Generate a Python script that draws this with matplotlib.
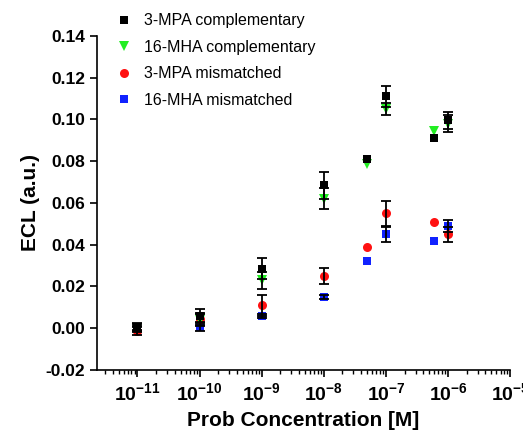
import matplotlib
matplotlib.use("Agg")
import matplotlib.pyplot as plt
import numpy as np
from matplotlib.ticker import FuncFormatter, LogLocator, MultipleLocator

plt.rcParams["font.family"] = ["Liberation Sans", "DejaVu Sans"]
plt.rcParams["mathtext.fontset"] = "custom"
plt.rcParams["mathtext.rm"] = "Liberation Sans:bold"
plt.rcParams["mathtext.bf"] = "Liberation Sans:bold"

CONCENTRATION = [1e-11, 1e-10, 1e-9, 1e-8, 5e-8, 1e-7, 6e-7, 1e-6]

MPA_COMP = [0.0005, 0.006, 0.0285, 0.0685, 0.081, 0.111, 0.091, 0.0995]
MPA_COMP_ERR = [0.002, 0.003, 0.005, 0.0065, 0, 0.005, 0, 0.004]

MHA_COMP = [0.0, 0.004, 0.023, 0.062, 0.0785, 0.105, 0.0945, 0.098]
MHA_COMP_ERR = [0.002, 0.003, 0.004, 0.005, 0, 0.003, 0, 0.004]

MPA_MIS = [-0.0012, 0.0045, 0.011, 0.025, 0.039, 0.055, 0.051, 0.045]
MPA_MIS_ERR = [0.002, 0.003, 0.005, 0.004, 0, 0.006, 0, 0.0035]

MHA_MIS = [0.0, 0.0005, 0.006, 0.015, 0.032, 0.045, 0.042, 0.049]
MHA_MIS_ERR = [0.001, 0.002, 0.001, 0.001, 0, 0.0035, 0, 0.003]

SERIES = [
    ("3-MPA complementary", MPA_COMP, MPA_COMP_ERR, "s", "black", 6),
    ("16-MHA complementary", MHA_COMP, MHA_COMP_ERR, "v", "#22ee22", 7.5),
    ("3-MPA mismatched", MPA_MIS, MPA_MIS_ERR, "o", "#ff1111", 6.5),
    ("16-MHA mismatched", MHA_MIS, MHA_MIS_ERR, "s", "#1122ff", 6),
]
# bleu dessous, noir au-dessus
ORDRE_DESSIN = [3, 2, 1, 0]


def tracer():
    fig = plt.figure(figsize=(5.23, 4.33), dpi=100)
    ax = fig.add_axes([0.1855, 0.1455, 0.79, 0.7715])
    x = np.array(CONCENTRATION)
    poignees = {}
    for rang, i in enumerate(ORDRE_DESSIN):
        nom, y, err, marq, coul, taille = SERIES[i]
        y = np.array(y)
        err = np.array(err)
        avec = err > 0
        (h,) = ax.plot(x, y, linestyle="none", marker=marq, color=coul,
                       markersize=taille, markeredgewidth=0, zorder=2 + rang * 0.1)
        ax.errorbar(x[avec], y[avec], yerr=err[avec], fmt="none", ecolor="black",
                    elinewidth=1.3, capsize=3.5, capthick=1.3, zorder=3 + rang * 0.1)
        poignees[i] = (h, nom)

    ax.set_xscale("log")
    ax.set_xlim(10 ** -11.65, 1e-5)
    ax.set_ylim(-0.02, 0.14)
    ax.yaxis.set_major_locator(MultipleLocator(0.02))
    ax.xaxis.set_major_locator(LogLocator(base=10, numticks=20))
    ax.xaxis.set_minor_locator(LogLocator(base=10, subs=np.arange(2, 10), numticks=20))
    ax.xaxis.set_major_formatter(FuncFormatter(lambda v, p: r"$\mathbf{10^{%d}}$" % round(np.log10(v))))
    ax.yaxis.set_major_formatter(FuncFormatter(lambda v, p: f"{v:.2f}"))

    for s in ["top", "right"]:
        ax.spines[s].set_visible(False)
    for s in ["left", "bottom"]:
        ax.spines[s].set_linewidth(1.2)
    ax.tick_params(which="major", direction="out", length=5, width=1.2, labelsize=12.5)
    ax.tick_params(axis="x", which="major", labelsize=14, pad=4)
    ax.tick_params(which="minor", direction="out", length=3, width=1)
    for lab in ax.get_yticklabels():
        lab.set_fontweight("bold")

    ax.set_xlabel("Prob Concentration [M]", fontsize=15, fontweight="bold", labelpad=5)
    ax.set_ylabel("ECL (a.u.)", fontsize=15, fontweight="bold", labelpad=4)

    hs = [poignees[i][0] for i in range(4)]
    noms = [poignees[i][1] for i in range(4)]
    ax.legend(hs, noms, loc="upper left", bbox_to_anchor=(0.198, 0.995), bbox_transform=fig.transFigure,
              frameon=False, fontsize=11.5, handletextpad=0.65, labelspacing=0.72,
              handlelength=1.2, borderpad=0.2)

    fig.savefig("out.png", dpi=100)
    plt.close(fig)


if __name__ == "__main__":
    tracer()
